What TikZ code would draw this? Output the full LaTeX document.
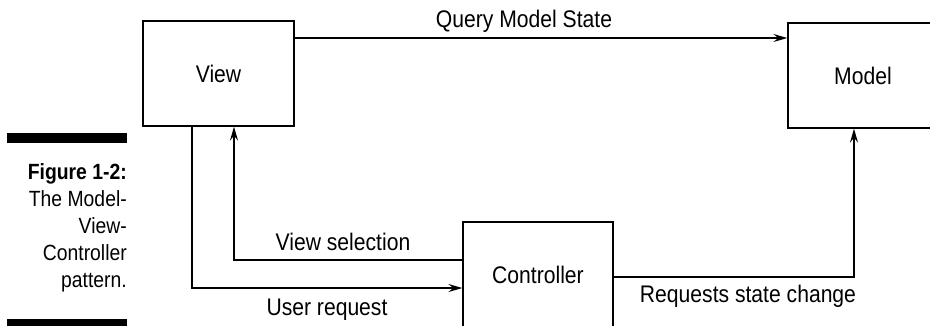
\documentclass[tikz,border=0pt]{standalone}
\usepackage{fontspec}
\setmainfont{Liberation Sans}[FakeStretch=0.88]
\usetikzlibrary{arrows.meta}
\begin{document}
\begin{tikzpicture}[x=1pt,y=-1pt,
  box/.style={draw, line width=1.3pt, minimum width=151pt, minimum height=105pt, inner sep=0pt, font=\fontsize{24}{29}\selectfont},
  conn/.style={line width=1.3pt, -{Stealth[length=14pt,width=8pt,inset=5pt]}},
  lbl/.style={anchor=base, inner sep=0pt, font=\fontsize{24}{29}\selectfont},
  capline/.style={anchor=base east, inner sep=0pt, font=\fontsize{22}{27}\selectfont}]
\useasboundingbox (0,0) rectangle (930,325);
\clip (0,0) rectangle (930,325);
% boxes
\node[box] (View) at (218.5,73.5) {View};
\node[box, minimum width=150pt] (Model) at (863,75.5) {Model};
\node[box, minimum width=150pt] (Controller) at (538,274.5) {Controller};
% helper coordinates
\coordinate (qy) at (0,38);
\coordinate (ur) at (192,288);
\coordinate (vs) at (234,260);
\coordinate (rs) at (854,277);
% connectors
\draw[conn] (View.east |- qy) -- (Model.west |- qy);
\draw[conn] (View.south -| ur) |- (Controller.west |- ur);
\draw[conn] (Controller.west |- vs) -| (View.south -| vs);
\draw[conn] (Controller.east |- rs) -| (Model.south -| rs);
% labels
\node[lbl] (lq) at (524,27) {Query Model State};
\node[lbl] (lvs) at (343,250) {View selection};
\node[lbl] (lur) at (327,315) {User request};
\node[lbl] (lrs) at (748,302) {Requests state change};
% caption
\fill (7,133) rectangle (127,143);
\fill (7,319) rectangle (127,329);
\node[capline] (c1) at (127,179) {\textbf{Figure 1-2:}};
\node[capline] (c2) at (127,206) {The Model-};
\node[capline] (c3) at (127,233) {View-};
\node[capline] (c4) at (127,260) {Controller};
\node[capline] (c5) at (127,287) {pattern.};
\end{tikzpicture}
\end{document}
